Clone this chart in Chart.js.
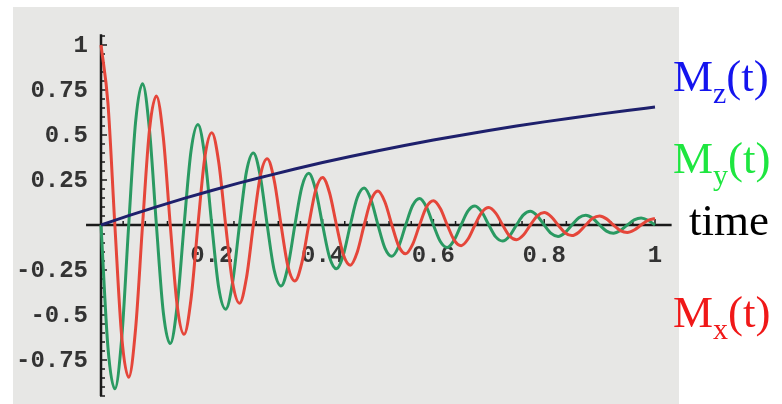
<!DOCTYPE html>
<html lang="en">
<head>
    <meta charset="UTF-8">
    <title>Bloch relaxation</title>
    <script src="https://cdn.jsdelivr.net/npm/chart.js"></script>
    <style>
        html, body {
            margin: 0;
            padding: 0;
            background: #ffffff;
        }
        .wrap {
            position: relative;
            width: 782px;
            height: 404px;
            overflow: hidden;
        }
        canvas {
            display: block;
        }
        .lbl {
            position: absolute;
            left: 673px;
            font-family: 'Liberation Serif', 'Times New Roman', serif;
            font-size: 45px;
            line-height: 45px;
            white-space: nowrap;
        }
        .lbl sub {
            font-size: 30px;
            line-height: 0;
            vertical-align: -12px;
        }
    </style>
</head>
<body>
    <div class="wrap">
        <canvas id="blochChart" width="782" height="404"></canvas>
        <div class="lbl" style="top:54px; color:#1414ee;">M<sub>z</sub>(t)</div>
        <div class="lbl" style="top:136px; color:#1ee640;">M<sub>y</sub>(t)</div>
        <div class="lbl" style="top:198px; left:689px; color:#000;">time</div>
        <div class="lbl" style="top:290px; color:#f01818;">M<sub>x</sub>(t)</div>
    </div>

    <script>
        // sample times for the fast transverse components
        const tFine = [0, 0.0125, 0.025, 0.0375, 0.05, 0.0625, 0.075, 0.0875, 0.1, 0.1125,
            0.125, 0.1375, 0.15, 0.1625, 0.175, 0.1875, 0.2, 0.2125, 0.225, 0.2375,
            0.25, 0.2625, 0.275, 0.2875, 0.3, 0.3125, 0.325, 0.3375, 0.35, 0.3625,
            0.375, 0.3875, 0.4, 0.4125, 0.425, 0.4375, 0.45, 0.4625, 0.475, 0.4875,
            0.5, 0.5125, 0.525, 0.5375, 0.55, 0.5625, 0.575, 0.5875, 0.6, 0.6125,
            0.625, 0.6375, 0.65, 0.6625, 0.675, 0.6875, 0.7, 0.7125, 0.725, 0.7375,
            0.75, 0.7625, 0.775, 0.7875, 0.8, 0.8125, 0.825, 0.8375, 0.85, 0.8625,
            0.875, 0.8875, 0.9, 0.9125, 0.925, 0.9375, 0.95, 0.9625, 0.975, 0.9875, 1];

        // Mx(t) (red)
        const mxValues = [1.00, 0.678, 0, -0.624, -0.846, -0.574, 0, 0.528, 0.717, 0.486,
            0, -0.447, -0.607, -0.411, 0, 0.378, 0.513, 0.349, 0, -0.320,
            -0.435, -0.295, 0, 0.271, 0.368, 0.250, 0, -0.230, -0.311, -0.211,
            0, 0.194, 0.264, 0.179, 0, -0.165, -0.223, -0.151, 0, 0.139,
            0.189, 0.128, 0, -0.118, -0.160, -0.108, 0, 0.100, 0.135, 0.092,
            0, -0.084, -0.115, -0.078, 0, 0.071, 0.097, 0.066, 0, -0.061,
            -0.082, -0.056, 0, 0.051, 0.069, 0.047, 0, -0.043, -0.059, -0.040,
            0, 0.037, 0.050, 0.034, 0, -0.031, -0.042, -0.028, 0, 0.026, 0.036];

        // My(t) (green)
        const myValues = [0, -0.678, -0.910, -0.624, 0, 0.574, 0.785, 0.528, 0, -0.486,
            -0.659, -0.447, 0, 0.411, 0.558, 0.378, 0, -0.349, -0.468, -0.320,
            0, 0.295, 0.400, 0.271, 0, -0.250, -0.339, -0.230, 0, 0.211,
            0.287, 0.194, 0, -0.179, -0.243, -0.165, 0, 0.151, 0.205, 0.139,
            0, -0.128, -0.174, -0.118, 0, 0.108, 0.147, 0.100, 0, -0.092,
            -0.125, -0.084, 0, 0.078, 0.105, 0.071, 0, -0.066, -0.089, -0.061,
            0, 0.056, 0.076, 0.051, 0, -0.047, -0.064, -0.043, 0, 0.040,
            0.054, 0.037, 0, -0.034, -0.046, -0.031, 0, 0.028, 0.039, 0.026, 0];

        // slow longitudinal recovery
        const tCoarse = [0, 0.05, 0.1, 0.15, 0.2, 0.25, 0.3, 0.35, 0.4, 0.45, 0.5,
            0.55, 0.6, 0.65, 0.7, 0.75, 0.8, 0.85, 0.9, 0.95, 1];
        const mzValues = [0, 0.052, 0.101, 0.148, 0.192, 0.234, 0.273, 0.311, 0.347, 0.381, 0.413,
            0.443, 0.472, 0.499, 0.525, 0.550, 0.573, 0.595, 0.616, 0.636, 0.655];

        const xTickValues = [0.2, 0.4, 0.6, 0.8, 1];
        const xTickLabels = ['0.2', '0.4', '0.6', '0.8', '1'];
        const yTickValues = [-0.75, -0.5, -0.25, 0.25, 0.5, 0.75, 1];
        const yTickLabels = ['-0.75', '-0.5', '-0.25', '0.25', '0.5', '0.75', '1'];

        function toPoints(xs, ys) {
            return xs.map(function (x, i) { return { x: x, y: ys[i] }; });
        }

        const axesPlugin = {
            id: 'axesPlugin',
            beforeDraw(chart) {
                const ctx = chart.ctx;
                ctx.save();
                ctx.fillStyle = '#e7e7e5';
                ctx.fillRect(13, 7, 666, 397);
                ctx.restore();
            },
            beforeDatasetsDraw(chart) {
                const ctx = chart.ctx;
                const xs = chart.scales.x;
                const ys = chart.scales.y;
                const x0 = xs.getPixelForValue(0);
                const y0 = ys.getPixelForValue(0);

                ctx.save();
                ctx.strokeStyle = '#1a1a1a';
                ctx.lineWidth = 2.5;
                ctx.beginPath();
                ctx.moveTo(xs.getPixelForValue(-0.027), y0);
                ctx.lineTo(xs.getPixelForValue(1.03), y0);
                ctx.moveTo(x0, ys.getPixelForValue(1.06));
                ctx.lineTo(x0, ys.getPixelForValue(-0.95));
                ctx.stroke();

                // small tick marks
                ctx.lineWidth = 1.5;
                ctx.beginPath();
                for (let k = 1; k <= 25; k++) {
                    const px = xs.getPixelForValue(k * 0.04);
                    const len = (k % 5 === 0) ? 6 : 4;
                    ctx.moveTo(px, y0 - len);
                    ctx.lineTo(px, y0 + 1);
                }
                for (let k = -19; k <= 21; k++) {
                    if (k === 0) continue;
                    const py = ys.getPixelForValue(k * 0.05);
                    const len = (k % 5 === 0) ? 6 : 4;
                    ctx.moveTo(x0 - 1, py);
                    ctx.lineTo(x0 + len, py);
                }
                ctx.stroke();

                // tick labels
                ctx.fillStyle = '#333333';
                ctx.font = 'bold 24px "Liberation Mono", "Courier New", monospace';
                ctx.textAlign = 'center';
                ctx.textBaseline = 'middle';
                xTickValues.forEach(function (v, i) {
                    ctx.fillText(xTickLabels[i], xs.getPixelForValue(v), y0 + 31);
                });
                ctx.textAlign = 'right';
                yTickValues.forEach(function (v, i) {
                    ctx.fillText(yTickLabels[i], x0 - 13, ys.getPixelForValue(v) + 1);
                });
                ctx.restore();
            }
        };

        new Chart(document.getElementById('blochChart').getContext('2d'), {
            type: 'line',
            data: {
                datasets: [
                    {
                        label: 'Mz(t)',
                        data: toPoints(tCoarse, mzValues),
                        borderColor: '#1e206c',
                        borderWidth: 3,
                        pointRadius: 0,
                        cubicInterpolationMode: 'monotone',
                        clip: 10
                    },
                    {
                        label: 'Mx(t)',
                        data: toPoints(tFine, mxValues),
                        borderColor: '#e5463a',
                        borderWidth: 3,
                        pointRadius: 0,
                        cubicInterpolationMode: 'monotone',
                        clip: 10
                    },
                    {
                        label: 'My(t)',
                        data: toPoints(tFine, myValues),
                        borderColor: '#2a9a62',
                        borderWidth: 3,
                        pointRadius: 0,
                        cubicInterpolationMode: 'monotone',
                        clip: 10
                    }
                ]
            },
            options: {
                responsive: false,
                animation: false,
                layout: {
                    padding: { left: 101, right: 127, top: 36, bottom: 8 }
                },
                plugins: {
                    legend: { display: false },
                    tooltip: { enabled: false }
                },
                scales: {
                    x: { type: 'linear', min: 0, max: 1, display: false },
                    y: { type: 'linear', min: -0.95, max: 1.05, display: false }
                }
            },
            plugins: [axesPlugin]
        });
    </script>
</body>
</html>
